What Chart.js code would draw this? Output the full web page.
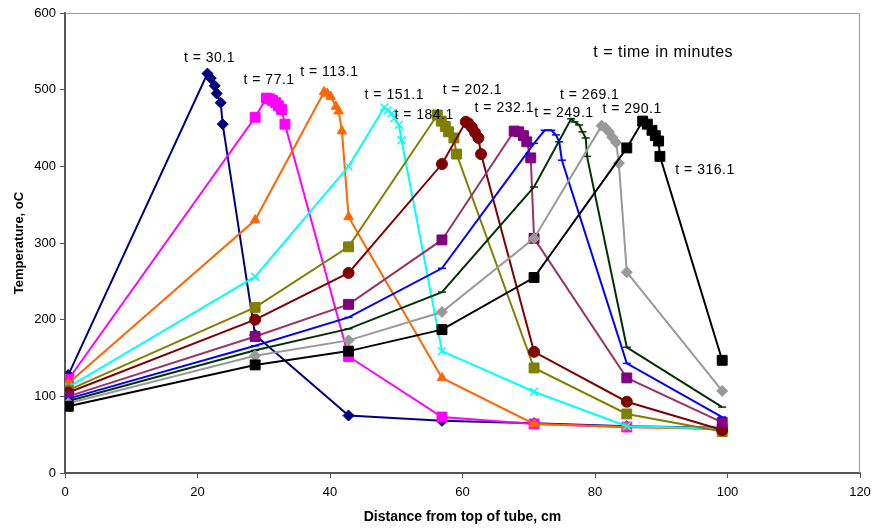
<!DOCTYPE html>
<html>
<head>
<meta charset="utf-8">
<script src="https://cdn.jsdelivr.net/npm/chart.js@4/dist/chart.umd.min.js"></script>
<style>
html,body{margin:0;padding:0;background:#fff;}
#c{display:block;}
</style>
</head>
<body>
<canvas id="c" width="876" height="529"></canvas>
<script>
// ---- data (distance cm, temperature C) ----
const seriesNames = ['t = 30.1','t = 77.1','t = 113.1','t = 151.1','t = 184.1','t = 202.1','t = 232.1','t = 249.1','t = 269.1','t = 290.1','t = 316.1'];

const x30  = [0.5, 21.5, 22.0, 22.6, 22.9, 23.5, 23.8, 28.7, 42.8, 56.9, 70.8, 84.8, 99.2];
const y30  = [128, 521, 515, 505, 495, 483, 455, 180, 75, 68, 65, 61, 59];

const x77  = [0.5, 28.7, 30.4, 30.9, 31.3, 31.8, 32.2, 32.7, 33.2, 42.8, 56.9, 70.8, 84.8, 99.2];
const y77  = [122, 464, 489, 488, 486, 483, 479, 474, 455, 152, 73, 64, 60, 58];

const x113 = [0.5, 28.7, 39.1, 39.6, 40.1, 40.9, 41.3, 41.8, 42.8, 56.9, 70.8, 84.8, 99.2];
const y113 = [117, 330, 497, 495, 491, 478, 472, 446, 334, 124, 64, 60, 57];

const x151 = [0.5, 28.7, 42.8, 48.2, 48.7, 49.3, 49.7, 50.4, 50.8, 56.9, 70.8, 84.8, 99.2];
const y151 = [112, 256, 400, 477, 473, 469, 463, 454, 434, 159, 106, 61, 58];

const x184 = [0.5, 28.7, 42.8, 56.2, 56.8, 57.4, 57.9, 58.7, 59.1, 70.8, 84.8, 99.2];
const y184 = [108, 216, 295, 467, 459, 452, 445, 437, 416, 137, 77, 54];

const x202 = [0.5, 28.7, 42.8, 56.9, 60.5, 60.9, 61.4, 61.9, 62.4, 62.8, 70.8, 84.8, 99.2];
const y202 = [105, 200, 261, 403, 458, 456, 451, 444, 437, 416, 158, 93, 56];

const x232 = [0.5, 28.7, 42.8, 56.9, 67.8, 68.5, 69.2, 69.7, 70.3, 70.8, 84.8, 99.2];
const y232 = [100, 178, 220, 304, 446, 445, 440, 432, 411, 306, 124, 66];

const x249 = [0.5, 28.7, 42.8, 56.9, 70.8, 72.4, 73.4, 74.1, 74.6, 75.0, 84.8, 99.2];
const y249 = [97, 166, 203, 267, 430, 447, 447, 441, 432, 408, 143, 73];

const x269 = [0.5, 28.7, 42.8, 56.9, 70.8, 76.4, 76.9, 77.6, 78.1, 78.6, 78.8, 84.8, 99.2];
const y269 = [94, 160, 188, 236, 373, 462, 458, 454, 445, 437, 413, 164, 86];

const x290 = [0.5, 28.7, 42.8, 56.9, 70.8, 81.0, 81.6, 82.1, 82.6, 83.2, 83.6, 84.8, 99.2];
const y290 = [91, 153, 173, 210, 306, 453, 450, 445, 438, 431, 404, 262, 107];

const x316 = [0.5, 28.7, 42.8, 56.9, 70.8, 84.8, 87.2, 87.9, 88.6, 89.1, 89.6, 89.8, 99.2];
const y316 = [87, 141, 159, 187, 255, 424, 459, 455, 447, 440, 433, 413, 147];

// label anchor positions (data coords) for series labels
const labelX = [21.8, 30.8, 39.9, 49.7, 54.2, 61.5, 66.3, 75.3, 79.2, 85.6, 96.6];
const labelY = [541, 513, 523, 493, 467, 500, 476, 470, 493, 475, 395];
const noteText = 't = time in minutes';
const noteX = 90.3, noteY = 549;

const xTicks = [0, 20, 40, 60, 80, 100, 120];
const yTicks = [0, 100, 200, 300, 400, 500, 600];

// ---- styling ----
const FONT = '"Liberation Sans", Arial, sans-serif';
const xsAll = [x30, x77, x113, x151, x184, x202, x232, x249, x269, x290, x316];
const ysAll = [y30, y77, y113, y151, y184, y202, y232, y249, y269, y290, y316];
const lineColors = ['#000080','#FF00FF','#FF6600','#00FFFF','#808000','#800000','#993366','#0000FF','#003300','#999999','#000000'];
const markColors = ['#000080','#FF00FF','#FF6600','#00FFFF','#808000','#800000','#800080','#0000FF','#003300','#999999','#000000'];
const markStyles = ['rectRot','rect','triangle','crossRot','rect','circle','rect','line','line','rectRot','rect'];
const markRadius = [5.5, 7, 5.5, 5.5, 7, 5.5, 7, 4, 4, 5.5, 7];

const datasets = seriesNames.map((name, i) => ({
  label: name,
  data: xsAll[i].map((x, j) => ({x: x, y: ysAll[i][j]})),
  showLine: true,
  tension: 0,
  borderColor: lineColors[i],
  borderWidth: 2,
  backgroundColor: markColors[i],
  pointBackgroundColor: markColors[i],
  pointBorderColor: markColors[i],
  pointBorderWidth: (markStyles[i] === 'crossRot' || markStyles[i] === 'line') ? 1.5 : 1,
  pointStyle: markStyles[i],
  pointRadius: markRadius[i],
  order: seriesNames.length - i
}));

const framePlugin = {
  id: 'frame',
  beforeDatasetsDraw(chart) {
    const {ctx, chartArea: a} = chart;
    ctx.save();
    ctx.strokeStyle = '#9a9a9a';
    ctx.lineWidth = 1;
    ctx.beginPath();
    ctx.moveTo(a.left, a.top + 0.5);
    ctx.lineTo(a.right - 0.5, a.top + 0.5);
    ctx.lineTo(a.right - 0.5, a.bottom);
    ctx.stroke();
    ctx.restore();
  }
};

const labelPlugin = {
  id: 'seriesLabels',
  afterDatasetsDraw(chart) {
    const {ctx, scales} = chart;
    ctx.save();
    ctx.fillStyle = '#000';
    ctx.textAlign = 'center';
    ctx.textBaseline = 'middle';
    ctx.font = '14px ' + FONT;
    try { ctx.letterSpacing = '0.5px'; } catch (e) {}
    seriesNames.forEach((n, i) => {
      ctx.fillText(n, scales.x.getPixelForValue(labelX[i]), scales.y.getPixelForValue(labelY[i]));
    });
    ctx.font = '16px ' + FONT;
    ctx.fillText(noteText, scales.x.getPixelForValue(noteX), scales.y.getPixelForValue(noteY));
    ctx.restore();
  }
};

new Chart(document.getElementById('c'), {
  type: 'scatter',
  data: { datasets: datasets },
  options: {
    responsive: false,
    animation: false,
    layout: { padding: { left: 0, top: 13, right: 16, bottom: 0 } },
    plugins: { legend: { display: false }, tooltip: { enabled: false } },
    scales: {
      x: {
        type: 'linear', min: 0, max: 120,
        afterBuildTicks(s) { s.ticks = xTicks.map(v => ({value: v})); },
        afterFit(s) { s.height = 56; s.paddingRight = 0; s.paddingLeft = 0; },
        ticks: { color: '#000', font: { family: FONT, size: 13 }, padding: 7, maxRotation: 0 },
        grid: { drawOnChartArea: false, drawTicks: true, tickLength: 5, color: '#555', tickWidth: 1 },
        border: { color: '#555', width: 2 },
        title: { display: true, text: 'Distance from top of tube, cm', color: '#000',
                 font: { family: FONT, size: 14, weight: 'bold' }, padding: { top: 4, bottom: 3 } }
      },
      y: {
        type: 'linear', min: 0, max: 600,
        afterBuildTicks(s) { s.ticks = yTicks.map(v => ({value: v})); },
        afterFit(s) { s.width = 65; s.paddingTop = 0; s.paddingBottom = 0; },
        ticks: { color: '#000', font: { family: FONT, size: 13 }, padding: 4 },
        grid: { drawOnChartArea: false, drawTicks: true, tickLength: 5, color: '#555', tickWidth: 1 },
        border: { color: '#555', width: 2 },
        title: { display: true, text: 'Temperature, oC', color: '#000',
                 font: { family: FONT, size: 13, weight: 'bold' }, padding: { top: 12, bottom: 4 } }
      }
    }
  },
  plugins: [framePlugin, labelPlugin]
});
</script>
</body>
</html>
